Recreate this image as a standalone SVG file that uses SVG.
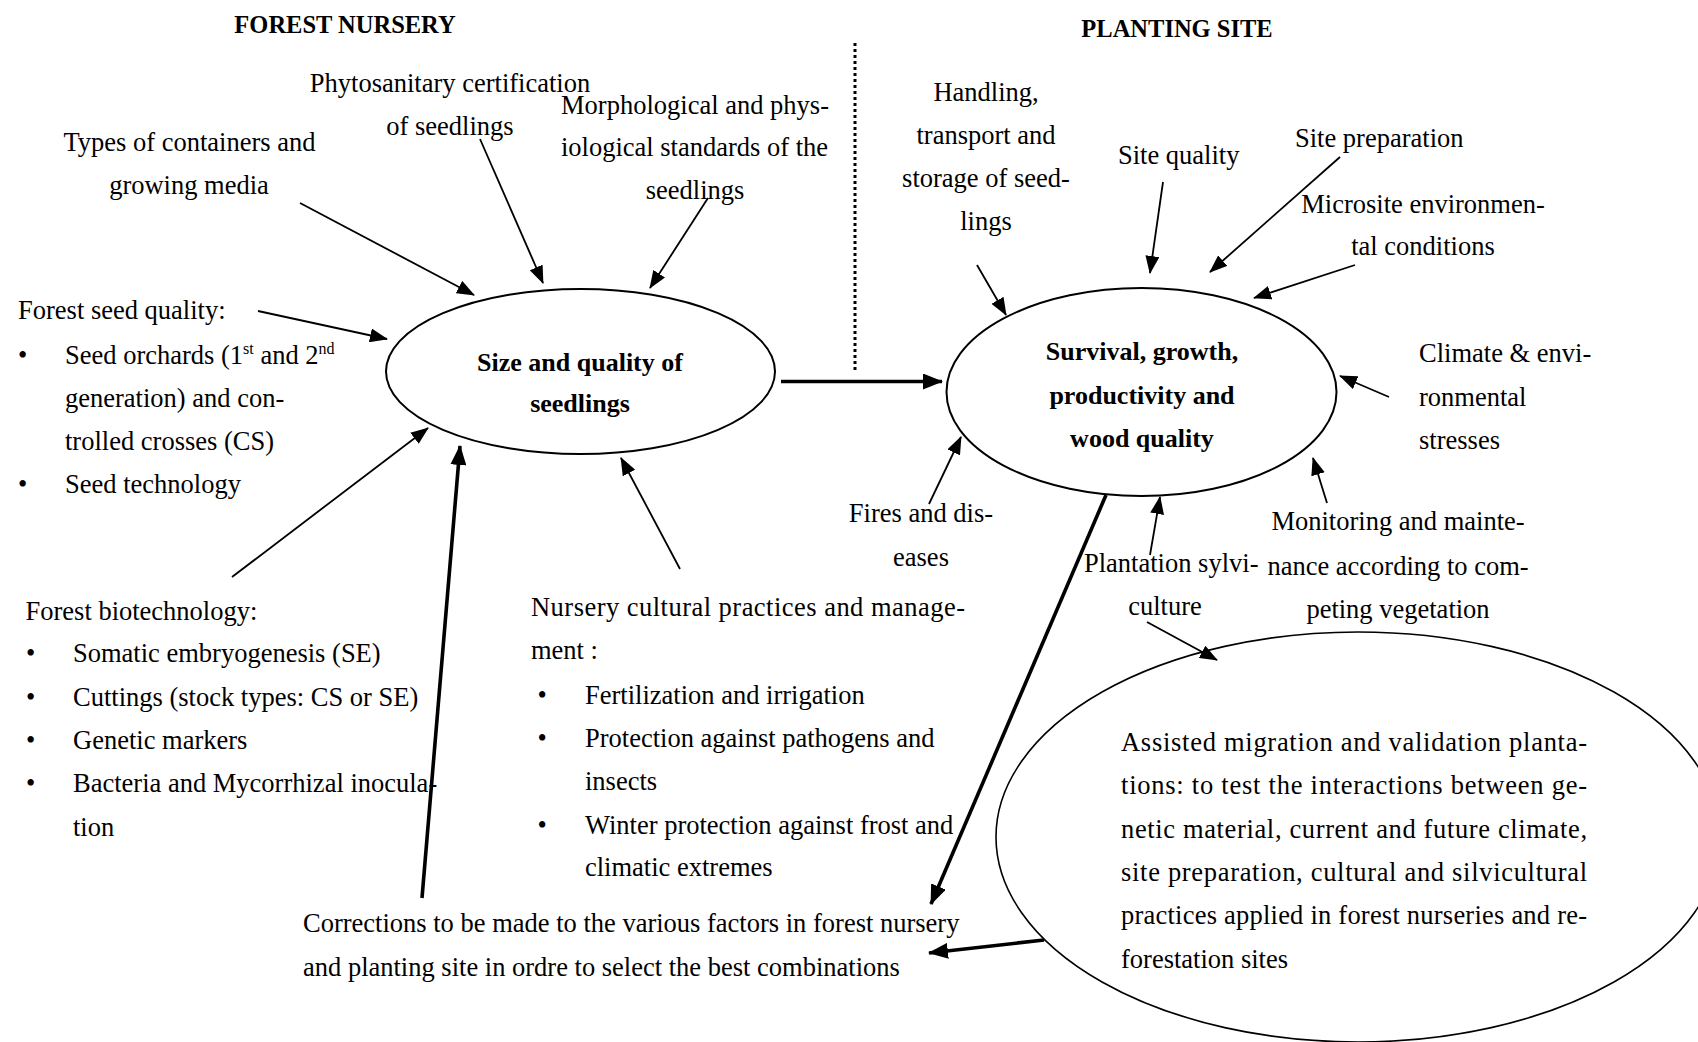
<svg xmlns="http://www.w3.org/2000/svg" width="1698" height="1042" viewBox="0 0 1698 1042">
<style>
text{font-family:"Liberation Serif","Times New Roman",serif;font-size:26.5px;fill:#000}
.b{font-weight:bold;font-size:26px}
.h{font-size:24.5px;font-weight:bold}
.m{text-anchor:middle}
.node{fill:none;stroke:#000;stroke-width:2}
.thin{stroke:#000;stroke-width:1.8;fill:none;marker-end:url(#ah)}
.thick{stroke:#000;stroke-width:3.6;fill:none;marker-end:url(#ahb)}
.sep{stroke:#000;stroke-width:3;stroke-dasharray:3 3;fill:none}
</style>
<defs>
<marker id="ah" markerUnits="userSpaceOnUse" markerWidth="18" markerHeight="14" viewBox="0 0 18 14" refX="17" refY="7" orient="auto"><path d="M0,0 L18,7 L0,14 z" fill="#000"/></marker>
<marker id="ahb" markerUnits="userSpaceOnUse" markerWidth="20" markerHeight="16" viewBox="0 0 20 16" refX="19" refY="8" orient="auto"><path d="M0,0 L20,8 L0,16 z" fill="#000"/></marker>
</defs>
<rect width="1698" height="1042" fill="#fff"/>

<g id="headers" transform="translate(0,1)">
<text class="h m" x="345" y="32">FOREST NURSERY</text>
<text class="h m" x="1177" y="36">PLANTING SITE</text>
</g>
<g id="separator"><line class="sep" x1="855" y1="43" x2="855" y2="373"/></g>

<g id="node-seedlings">
<ellipse class="node" cx="580.5" cy="371.5" rx="194.5" ry="82.5"/>
<text class="b m" x="580" y="371">Size and quality of</text>
<text class="b m" x="580" y="412">seedlings</text>
</g>
<g id="node-survival">
<ellipse class="node" cx="1141.5" cy="392" rx="195" ry="104"/>
<text class="b m" x="1142" y="360">Survival, growth,</text>
<text class="b m" x="1142" y="404">productivity and</text>
<text class="b m" x="1142" y="447">wood quality</text>
</g>
<g id="node-assisted">
<ellipse class="node" cx="1358" cy="837" rx="362" ry="205" style="stroke-width:1.6"/>
<text x="1121" y="751" textLength="466">Assisted migration and validation planta-</text>
<text x="1121" y="794" textLength="466">tions: to test the interactions between ge-</text>
<text x="1121" y="837.5" textLength="466">netic material, current and future climate,</text>
<text x="1121" y="881" textLength="466">site preparation, cultural and silvicultural</text>
<text x="1121" y="924" textLength="466">practices applied in forest nurseries and re-</text>
<text x="1121" y="967.5">forestation sites</text>
</g>

<g id="node-phyto" transform="translate(0,2)">
<text class="m" x="450" y="90">Phytosanitary certification</text>
<text class="m" x="450" y="133">of seedlings</text>
</g>
<g id="node-morpho" transform="translate(0,2)">
<text x="561" y="112" textLength="268">Morphological and phys-</text>
<text x="561" y="154" textLength="267">iological standards of the</text>
<text class="m" x="695" y="197">seedlings</text>
</g>
<g id="node-containers" transform="translate(0,2)">
<text class="m" x="189.5" y="149">Types of containers and</text>
<text class="m" x="189" y="192">growing media</text>
</g>
<g id="node-seed" transform="translate(0,2)">
<text x="18" y="317">Forest seed quality:</text>
<text x="18" y="362">•</text>
<text x="65" y="362">Seed orchards (1<tspan font-size="16" dy="-10">st</tspan><tspan dy="10"> and 2</tspan><tspan font-size="16" dy="-10">nd</tspan></text>
<text x="65" y="405">generation) and con-</text>
<text x="65" y="448">trolled crosses (CS)</text>
<text x="18" y="491">•</text>
<text x="65" y="491">Seed technology</text>
</g>
<g id="node-biotech" transform="translate(0,2)">
<text x="25.5" y="618">Forest biotechnology:</text>
<text x="26" y="660">•</text>
<text x="73" y="660">Somatic embryogenesis (SE)</text>
<text x="26" y="704">•</text>
<text x="73" y="704">Cuttings (stock types: CS or SE)</text>
<text x="26" y="747">•</text>
<text x="73" y="747">Genetic markers</text>
<text x="26" y="790">•</text>
<text x="73" y="790">Bacteria and Mycorrhizal inocula-</text>
<text x="73" y="834">tion</text>
</g>
<g id="node-nursery" transform="translate(0,2)">
<text x="531" y="614" textLength="434">Nursery cultural practices and manage-</text>
<text x="531" y="657">ment :</text>
<text x="537.6" y="701.5">•</text>
<text x="585" y="701.5">Fertilization and irrigation</text>
<text x="537.6" y="745">•</text>
<text x="585" y="745">Protection against pathogens and</text>
<text x="585" y="788">insects</text>
<text x="537.6" y="831.5">•</text>
<text x="585" y="831.5">Winter protection against frost and</text>
<text x="585" y="874">climatic extremes</text>
</g>
<g id="node-corrections" transform="translate(0,2)">
<text x="303" y="930">Corrections to be made to the various factors in forest nursery</text>
<text x="303" y="974">and planting site in ordre to select the best combinations</text>
</g>

<g id="node-handling" transform="translate(0,2)">
<text class="m" x="986" y="99">Handling,</text>
<text class="m" x="986" y="142">transport and</text>
<text class="m" x="986" y="185">storage of seed-</text>
<text class="m" x="986" y="228">lings</text>
</g>
<g id="node-sitequality" transform="translate(0,2)"><text x="1118" y="162">Site quality</text></g>
<g id="node-siteprep" transform="translate(0,2)"><text x="1295" y="145">Site preparation</text></g>
<g id="node-microsite" transform="translate(0,2)">
<text class="m" x="1423" y="211">Microsite environmen-</text>
<text class="m" x="1423" y="253">tal conditions</text>
</g>
<g id="node-climate" transform="translate(0,2)">
<text x="1419" y="360">Climate &amp; envi-</text>
<text x="1419" y="404">ronmental</text>
<text x="1419" y="447">stresses</text>
</g>
<g id="node-fires" transform="translate(0,2)">
<text class="m" x="921" y="520">Fires and dis-</text>
<text class="m" x="921" y="564">eases</text>
</g>
<g id="node-plantation" transform="translate(0,2)">
<text x="1084" y="570">Plantation sylvi-</text>
<text class="m" x="1165" y="613">culture</text>
</g>
<g id="node-monitoring" transform="translate(0,2)">
<text class="m" x="1398" y="528">Monitoring and mainte-</text>
<text class="m" x="1398" y="573">nance according to com-</text>
<text class="m" x="1398" y="616">peting vegetation</text>
</g>

<g id="connectors">
<line class="thin" x1="300" y1="203" x2="474" y2="295"/>
<line class="thin" x1="480" y1="139" x2="543" y2="283"/>
<line class="thin" x1="708" y1="198" x2="650" y2="288"/>
<line class="thin" x1="258" y1="311" x2="387" y2="339"/>
<line class="thin" x1="232" y1="577" x2="428" y2="428"/>
<line class="thin" x1="680" y1="569" x2="621" y2="458"/>
<line class="thick" x1="422" y1="898" x2="460" y2="446"/>
<line class="thick" x1="781" y1="381.5" x2="942" y2="381.5"/>
<line class="thin" x1="977" y1="265" x2="1006" y2="315"/>
<line class="thin" x1="1163" y1="182" x2="1150" y2="273"/>
<line class="thin" x1="1340" y1="157" x2="1210" y2="272"/>
<line class="thin" x1="1355" y1="265" x2="1254" y2="298"/>
<line class="thin" x1="1389" y1="397" x2="1340" y2="376"/>
<line class="thin" x1="929" y1="504" x2="961" y2="437"/>
<line class="thin" x1="1150" y1="555" x2="1160" y2="497"/>
<line class="thin" x1="1327" y1="503" x2="1313" y2="458"/>
<line class="thin" x1="1147" y1="622" x2="1217" y2="660"/>
<line class="thick" x1="1106" y1="495" x2="931" y2="904"/>
<line class="thick" x1="1044" y1="940" x2="929" y2="953"/>
</g>
</svg>
